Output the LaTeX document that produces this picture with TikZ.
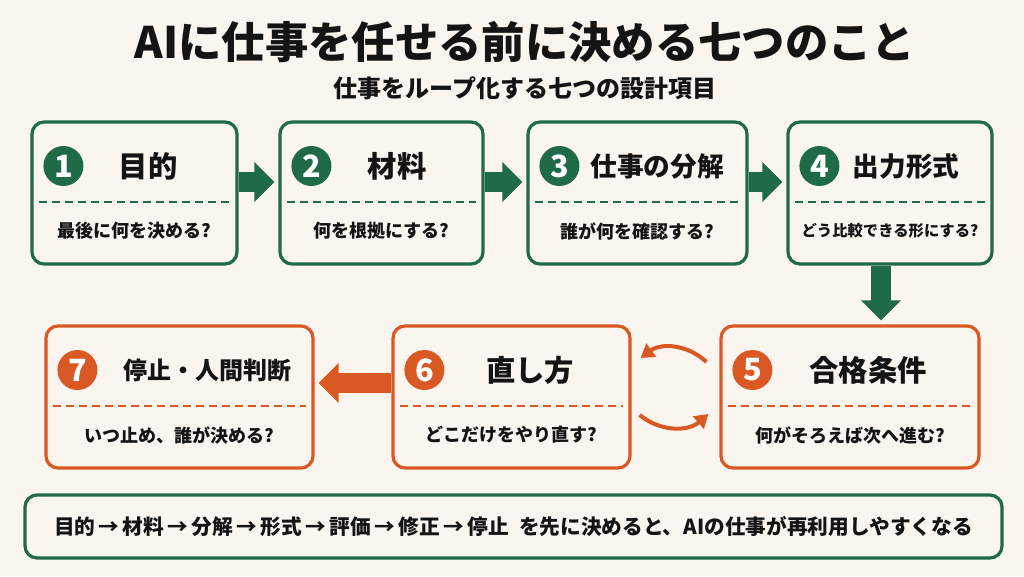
\documentclass[tikz,border=0pt]{standalone}
\usepackage{fontspec}
\setmainfont{Noto Sans CJK JP}
\newfontfamily\heavyjp{Noto Sans CJK JP Black}
\usetikzlibrary{arrows.meta,calc,positioning}
\definecolor{cardGreen}{RGB}{31,107,72}
\definecolor{cardOrange}{RGB}{218,88,36}
\definecolor{paper}{RGB}{250,245,238}
\definecolor{ink}{RGB}{20,20,20}
\begin{document}
\begin{tikzpicture}[x=0.75pt,y=-0.75pt,
  card/.style={draw=#1, line width=2.4pt, rounded corners=9pt, fill=paper, minimum height=106.5pt, inner sep=0pt},
  badge/.style={circle, fill=#1, text=white, minimum size=30pt, inner sep=0pt, font=\bfseries\fontsize{23}{23}\selectfont},
  cardTitle/.style={font=\bfseries\fontsize{22}{22}\selectfont, text=ink},
  cardQuestion/.style={font=\bfseries\fontsize{13.5}{13.5}\selectfont, text=ink},
  blockArrow/.style={draw=#1, line width=14.5pt, -{Triangle[length=15pt 0 0,width=29pt 0 0]}, shorten >=3pt},
  loopArrow/.style={draw=cardOrange, line width=3pt, -{Triangle[length=10pt 0 0,width=12pt 0 0]}}
]
    \newcommand{\loopCard}[9]{
        \node[card=#5, minimum width=#3*0.75pt] (#1) at (#2,#4) {};
        \node[badge=#5] (#1n) at ($(#1.west)+(33,-27)$) {#6};
        \node[cardTitle] (#1t) at ($(#1.center)+(#8,-27)$) {#7};
        \draw[#5, line width=1.5pt, dash pattern=on 6pt off 3.75pt] ($(#1.west)+(9,9)$) -- ($(#1.east)+(-9,9)$);
        \node[cardQuestion] (#1q) at ($(#1.center)+(0,38)$) {#9};
    }
  \fill[paper] (0,0) rectangle (1024,576);
  \node[font=\heavyjp\fontsize{32.5}{32.5}\selectfont, text=ink] (title) at (525,42) {AIに仕事を任せる前に決める七つのこと};
  \node[font=\bfseries\fontsize{18}{18}\selectfont, text=ink] (subtitle) at (525,88) {仕事をループ化する七つの設計項目};
  \loopCard{b1}{134.5}{205}{193}{cardGreen}{1}{目的}{13.5}{最後に何を決める?}
  \loopCard{b2}{381.5}{203}{193}{cardGreen}{2}{材料}{15.5}{何を根拠にする?}
  \loopCard{b3}{637.5}{219}{193}{cardGreen}{3}{\fontsize{20}{20}\selectfont 仕事の分解}{19.5}{誰が何を確認する?}
  \loopCard{b4}{890}{204}{193}{cardGreen}{4}{\fontsize{20}{20}\selectfont 出力形式}{16}{\fontsize{11.5}{11.5}\selectfont どう比較できる形にする?}
  \loopCard{b5}{850}{258}{397}{cardOrange}{5}{合格条件}{18}{何がそろえば次へ進む?}
  \loopCard{b6}{511.5}{237}{397}{cardOrange}{6}{直し方}{18.5}{どこだけをやり直す?}
  \loopCard{b7}{179.5}{267}{397}{cardOrange}{7}{\fontsize{18}{18}\selectfont 停止・人間判断}{27.5}{いつ止め、誰が決める?}
  \draw[blockArrow=cardGreen] ([yshift=8.25pt]b1.east) -- ([yshift=8.25pt]b2.west);
  \draw[blockArrow=cardGreen] ([yshift=8.25pt]b2.east) -- ([yshift=8.25pt]b3.west);
  \draw[blockArrow=cardGreen] ([yshift=8.25pt]b3.east) -- ([yshift=8.25pt]b4.west);
  \draw[blockArrow=cardGreen] ([xshift=-6.75pt]b4.south) -- ([xshift=-6.75pt]b4.south |- b5.north);
  \draw[blockArrow=cardOrange] ([yshift=10.5pt]b6.west) -- ([yshift=10.5pt]b7.east);
  \draw[loopArrow] ([shift={(-13,-35)}]b5.west) to[bend right=40] ([shift={(9,-39)}]b6.east);
  \draw[loopArrow] ([shift={(8,18)}]b6.east) to[bend right=40] ([shift={(-11,17)}]b5.west);
  \node[card=cardGreen, minimum width=977*0.75pt, minimum height=63*0.75pt, font=\bfseries\fontsize{15.5}{15.5}\selectfont, text=ink] (summary) at (513.5,526.5) {目的\,→\,材料\,→\,分解\,→\,形式\,→\,評価\,→\,修正\,→\,停止\enspace を先に決めると、AIの仕事が再利用しやすくなる};
\end{tikzpicture}
\end{document}
